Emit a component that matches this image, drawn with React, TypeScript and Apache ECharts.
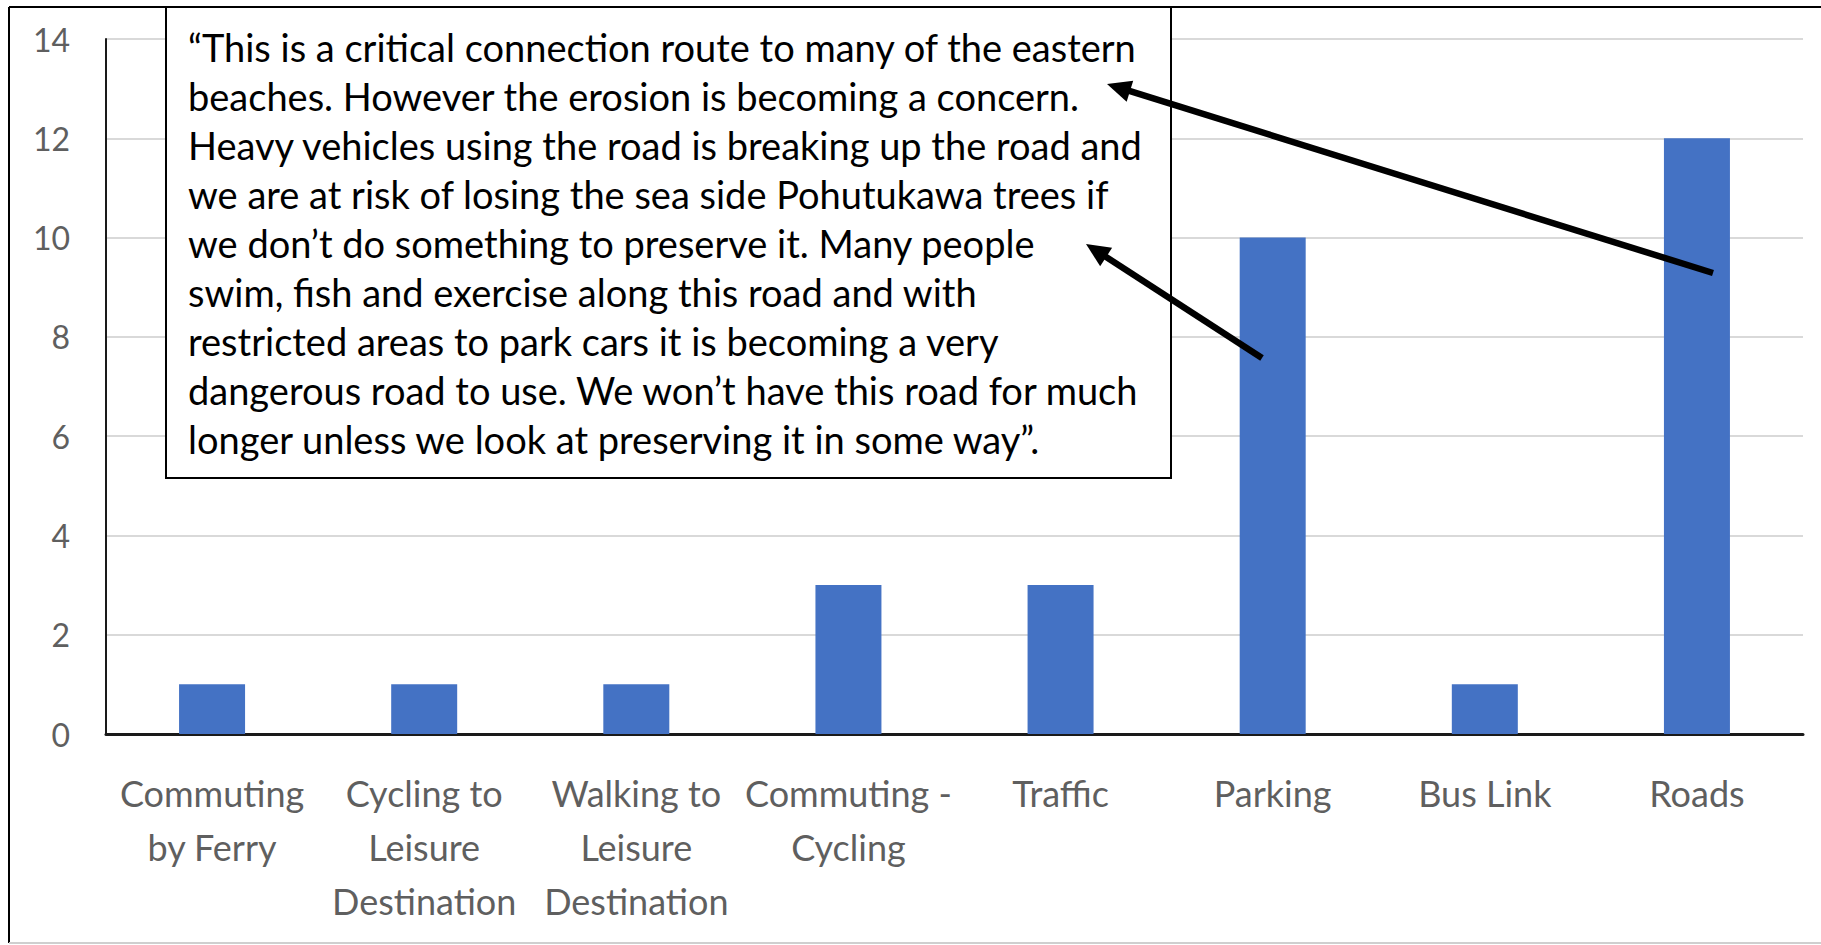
import React, { useEffect, useRef } from "react";
import * as echarts from "echarts";

const categories = [
  "Commuting\nby Ferry",
  "Cycling to\nLeisure\nDestination",
  "Walking to\nLeisure\nDestination",
  "Commuting -\nCycling",
  "Traffic",
  "Parking",
  "Bus Link",
  "Roads",
];
const values = [1, 1, 1, 3, 3, 10, 1, 12];
const yTicks = { min: 0, max: 14, interval: 2 };

const quoteLines = [
  "\u201CThis is a critical connection route to many of the eastern",
  "beaches. However the erosion is becoming a concern.",
  "Heavy vehicles using the road is breaking up the road and",
  "we are at risk of losing the sea side Pohutukawa trees if",
  "we don\u2019t do something to preserve it. Many people",
  "swim, fish and exercise along this road and with",
  "restricted areas to park cars it is becoming a very",
  "dangerous road to use. We won\u2019t have this road for much",
  "longer unless we look at preserving it in some way\u201D.",
];

function arrow(tail: number[], tip: number[], z: number) {
  const dx = tip[0] - tail[0];
  const dy = tip[1] - tail[1];
  const len = Math.sqrt(dx * dx + dy * dy);
  const ux = dx / len;
  const uy = dy / len;
  const nx = -uy;
  const ny = ux;
  const hl = 24;
  const hw = 11;
  const bx = tip[0] - ux * hl;
  const by = tip[1] - uy * hl;
  return [
    {
      type: "line",
      z,
      shape: { x1: tail[0], y1: tail[1], x2: bx + ux * 4, y2: by + uy * 4 },
      style: { stroke: "#000", lineWidth: 6.5 },
    },
    {
      type: "polygon",
      z,
      shape: {
        points: [
          [tip[0], tip[1]],
          [bx + nx * hw, by + ny * hw],
          [bx - nx * hw, by - ny * hw],
        ],
      },
      style: { fill: "#000" },
    },
  ];
}

export default function App() {
  const ref = useRef<HTMLDivElement>(null);
  useEffect(() => {
    document.body.style.margin = "0";
    const chart = echarts.init(ref.current!, null, { renderer: "svg" });
    chart.setOption({
      animation: false,
      backgroundColor: "#fff",
      grid: { left: 106, right: 18, top: 39, bottom: 211, containLabel: false },
      xAxis: {
        type: "category",
        data: categories,
        axisLine: { show: true, lineStyle: { color: "#1a1a1a", width: 3 } },
        axisTick: { show: false },
        axisLabel: {
          color: "#5f5f5f",
          fontFamily: "Lato",
          fontSize: 36,
          lineHeight: 54,
          margin: 32,
          interval: 0,
        },
      },
      yAxis: {
        type: "value",
        min: yTicks.min,
        max: yTicks.max,
        interval: yTicks.interval,
        axisLine: { show: true, lineStyle: { color: "#1a1a1a", width: 2 } },
        axisTick: { show: false },
        splitLine: { lineStyle: { color: "#d9d9d9", width: 2 } },
        axisLabel: {
          color: "#5f5f5f",
          fontFamily: "Lato",
          fontSize: 32,
          margin: 36,
        },
      },
      series: [
        {
          type: "bar",
          data: values,
          barWidth: 66,
          itemStyle: { color: "#4472C4" },
        },
      ],
      graphic: [
        {
          type: "line",
          z: 10,
          shape: { x1: 9, y1: 7, x2: 1821, y2: 7 },
          style: { stroke: "#000", lineWidth: 2 },
        },
        {
          type: "line",
          z: 10,
          shape: { x1: 9, y1: 7, x2: 9, y2: 943 },
          style: { stroke: "#000", lineWidth: 2 },
        },
        {
          type: "line",
          z: 10,
          shape: { x1: 9, y1: 943, x2: 1821, y2: 943 },
          style: { stroke: "#cfcfcf", lineWidth: 2 },
        },
        {
          type: "rect",
          z: 20,
          shape: { x: 166, y: 7, width: 1005, height: 471 },
          style: { fill: "#fff", stroke: "#000", lineWidth: 2 },
        },
        {
          type: "text",
          z: 21,
          x: 188,
          y: 22,
          style: {
            text: quoteLines.join("\n"),
            fontFamily: "Lato",
            fontSize: 38,
            lineHeight: 49,
            fill: "#000",
            textVerticalAlign: "top",
          },
        },
        ...arrow([1713, 273], [1107, 84], 30),
        ...arrow([1262, 358], [1086, 244], 30),
      ],
    });
    return () => chart.dispose();
  }, []);
  return (
    <div
      ref={ref}
      style={{ position: "absolute", left: 0, top: 0, width: 1821, height: 945 }}
    />
  );
}
